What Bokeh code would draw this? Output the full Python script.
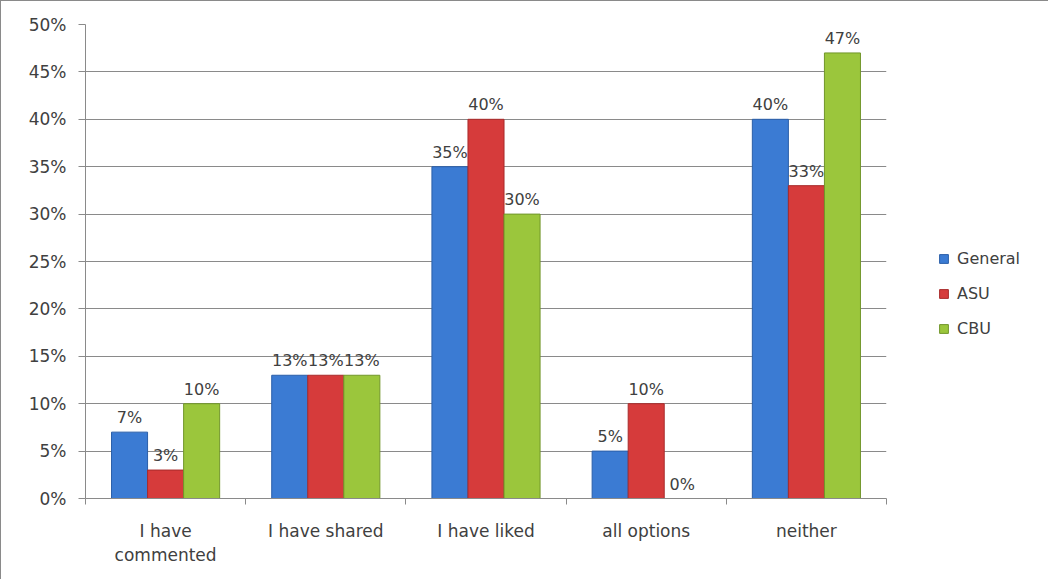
import numpy as np
from bokeh.plotting import figure
from bokeh.models import (ColumnDataSource, FixedTicker, NumeralTickFormatter,
                          Legend, LegendItem, Range1d)
from bokeh.core.properties import value
from bokeh.embed import file_html
from bokeh.resources import INLINE

categories = ["I have\ncommented", "I have shared", "I have liked", "all options", "neither"]
series_names = ["General", "ASU", "CBU"]
general = [0.07, 0.13, 0.35, 0.05, 0.40]
asu = [0.03, 0.13, 0.40, 0.10, 0.33]
cbu = [0.10, 0.13, 0.30, 0.00, 0.47]
colors = ["#3b7bd3", "#d63b3b", "#9bc63c"]
edge_colors = ["#2a5ea8", "#a82b2b", "#71962a"]

FONT = "DejaVu Sans"
TXT = "#404040"

p = figure(frame_width=801, frame_height=474,
           output_backend="svg", toolbar_location=None,
           x_range=Range1d(0, len(categories)), y_range=Range1d(0, 0.5),
           min_border_left=84, min_border_top=23, min_border_right=0,
           min_border_bottom=81)
p.outline_line_color = None
p.background_fill_color = "white"
p.border_fill_color = "white"
p.styles = {"border-left": "1px solid #8a8a8a", "border-top": "1px solid #8a8a8a"}

idx = np.arange(len(categories)) + 0.5
bw = 0.225
offsets = [-bw, 0.0, bw]
items = []
for name, vals, col, ec, off in zip(series_names, [general, asu, cbu], colors, edge_colors, offsets):
    vals = np.array(vals)
    src = ColumnDataSource(dict(x=idx + off, top=vals,
                                lab=[f"{round(v*100)}%" for v in vals]))
    r = p.vbar(x="x", top="top", width=bw, source=src, fill_color=col,
               line_color=ec, line_width=1)
    p.text(x="x", y="top", text="lab", source=src, text_align="center",
           text_baseline="bottom", y_offset=-5, text_font=value(FONT),
           text_font_size="16px", text_color=TXT)
    items.append(LegendItem(label=name, renderers=[r]))

legend = Legend(items=items, location=(52, 159), glyph_width=11, glyph_height=11,
                label_text_font=FONT, label_text_font_size="16px",
                label_text_color=TXT, spacing=14, label_height=21, padding=0,
                label_standoff=8, margin=0,
                border_line_color=None, background_fill_alpha=0)
p.add_layout(legend, "right")

# y axis
p.yaxis.ticker = FixedTicker(ticks=[i * 0.05 for i in range(11)])
p.yaxis.formatter = NumeralTickFormatter(format="0%")
p.yaxis.major_label_text_font = FONT
p.yaxis.major_label_text_font_size = "17px"
p.yaxis.major_label_text_color = TXT
p.yaxis.axis_line_color = "#8a8a8a"
p.yaxis.major_tick_line_color = "#8a8a8a"
p.yaxis.major_tick_out = 7
p.yaxis.major_tick_in = 0
p.yaxis.minor_tick_line_color = None
p.yaxis.major_label_standoff = 12

# x axis
p.xaxis.ticker = FixedTicker(ticks=list(idx), minor_ticks=list(range(len(categories) + 1)))
p.xaxis.major_label_overrides = {float(x): c for x, c in zip(idx, categories)}
p.xaxis.major_label_text_font = FONT
p.xaxis.major_label_text_font_size = "17px"
p.xaxis.major_label_text_color = TXT
p.xaxis.major_tick_line_color = None
p.xaxis.minor_tick_out = 6
p.xaxis.minor_tick_in = 0
p.xaxis.minor_tick_line_color = "#8a8a8a"
p.xaxis.axis_line_color = "#8a8a8a"
p.xaxis.major_label_standoff = 16

p.xgrid.grid_line_color = None
p.ygrid.grid_line_color = "#8a8a8a"
p.ygrid.grid_line_width = 1

open("out.html", "w").write(file_html(p, INLINE))
